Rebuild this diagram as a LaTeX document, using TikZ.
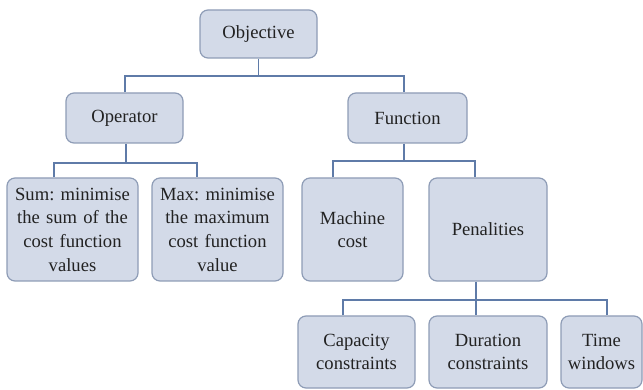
\documentclass[tikz,border=0pt]{standalone}
\usepackage{fontspec}
\setmainfont{Liberation Serif}
\usetikzlibrary{calc}
\definecolor{boxfill}{HTML}{D3DAE8}
\definecolor{boxline}{HTML}{8E9CB6}
\definecolor{linkline}{HTML}{5F7BA8}
\definecolor{inktext}{HTML}{222222}
\frenchspacing
\tikzset{
  treebox/.style={draw=boxline, line width=1.2pt, fill=boxfill, rounded corners=8pt,
    inner sep=0pt, align=center, text=inktext,
    font=\fontsize{18.6}{23.7}\selectfont\frenchspacing},
  conn/.style={draw=linkline, line width=1.6pt}
}
\begin{document}
\begin{tikzpicture}[x=1pt,y=1pt]
\useasboundingbox (0,0) rectangle (643,-390);

% top level
\node[treebox, minimum width=117pt, minimum height=48pt] (obj) at (258.5,-34) {Objective};

% second level
\node[treebox, minimum width=117pt, minimum height=50pt] (op) at (124.5,-118) {Operator};
\node[treebox, minimum width=119pt, minimum height=50pt] (fn) at (407.5,-118) {Function};

% third level
\node[treebox, minimum width=131pt, minimum height=103pt, text width=125pt] (sum) at (72.5,-229.5)
  {Sum: minimise\\the sum of the\\cost function\\values};
\node[treebox, minimum width=131pt, minimum height=103pt, text width=125pt] (max) at (217.5,-229.5)
  {Max: minimise\\the maximum\\cost function\\value};
\node[treebox, minimum width=101pt, minimum height=103pt, text width=95pt] (mach) at (352.5,-229.5)
  {Machine\\cost};
\node[treebox, minimum width=118pt, minimum height=103pt] (pen) at (488,-229.5) {Penalities};

% fourth level
\node[treebox, minimum width=117pt, minimum height=72pt, text width=112pt] (cap) at (356.5,-352)
  {Capacity\\constraints};
\node[treebox, minimum width=118pt, minimum height=72pt, text width=112pt] (dur) at (488,-352)
  {Duration\\constraints};
\node[treebox, minimum width=81pt, minimum height=72pt, text width=78pt] (tw) at (601.5,-352)
  {Time\\windows};

% bus heights
\coordinate (busA) at (0,-76);
\coordinate (busB) at (0,-163);
\coordinate (busC) at (0,-161);
\coordinate (busD) at (0,-300);

% attachment points on the boxes
\coordinate (opT) at ($(op.north)+(0.5,0)$);
\coordinate (fnT) at ($(fn.north)+(-3.5,0)$);
\coordinate (opB) at ($(op.south)+(1.5,0)$);
\coordinate (sumT) at ($(sum.north)+(-18.5,0)$);
\coordinate (maxT) at ($(max.north)+(-20.5,0)$);
\coordinate (fnB) at ($(fn.south)+(-3.5,0)$);
\coordinate (machT) at ($(mach.north)+(-19.5,0)$);
\coordinate (penT) at ($(pen.north)+(-13,0)$);
\coordinate (penB) at ($(pen.south)+(-12,0)$);
\coordinate (capT) at ($(cap.north)+(-13.5,0)$);
\coordinate (durT) at ($(dur.north)+(-12,0)$);
\coordinate (twT) at ($(tw.north)+(5.5,0)$);

% Objective -> Operator / Function
\draw[conn] (obj.south) -- (obj.south |- busA);
\draw[conn] (opT) |- (fnT |- busA) -- (fnT);

% Operator -> Sum / Max
\draw[conn] (opB) -- (opB |- busB);
\draw[conn] (sumT) |- (maxT |- busB) -- (maxT);

% Function -> Machine cost / Penalities
\draw[conn] (fnB) -- (fnB |- busC);
\draw[conn] (machT) |- (penT |- busC) -- (penT);

% Penalities -> constraints
\draw[conn] (penB) -- (durT);
\draw[conn] (capT) |- (twT |- busD) -- (twT);
\end{tikzpicture}
\end{document}
